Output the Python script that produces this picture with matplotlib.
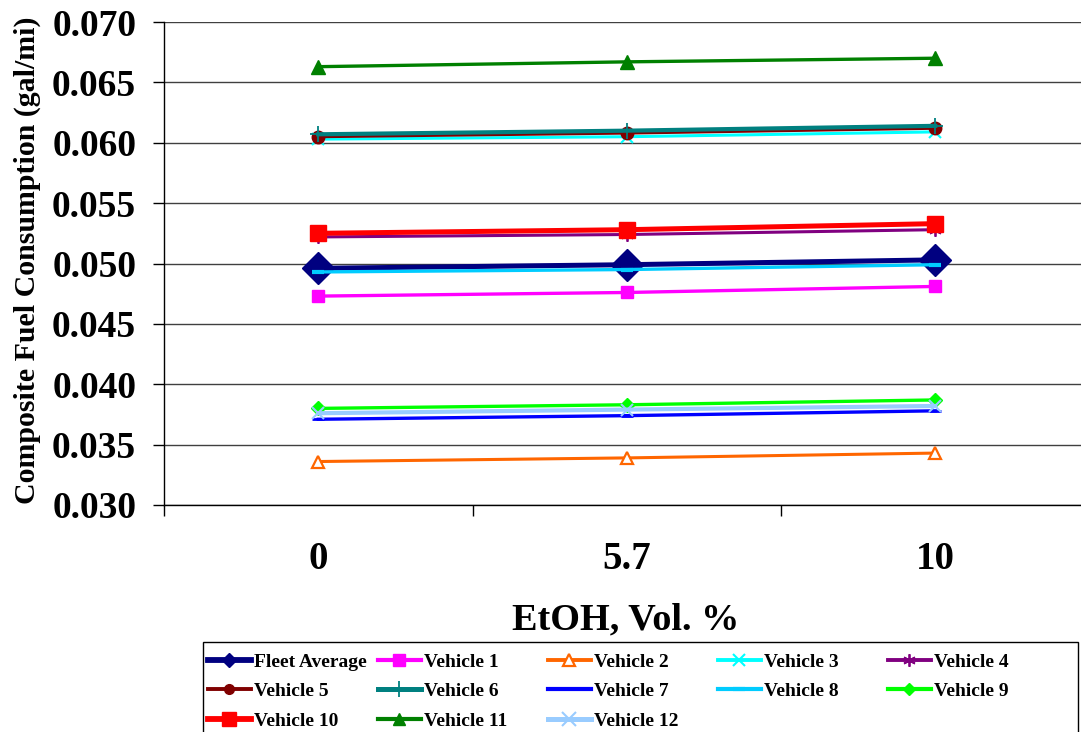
import matplotlib
matplotlib.use("Agg")
import matplotlib.pyplot as plt
from matplotlib.lines import Line2D
from matplotlib.patches import Rectangle

plt.rcParams['font.family'] = ['Liberation Serif', 'DejaVu Serif']
plt.rcParams['font.weight'] = 'bold'

categories = ["0", "5.7", "10"]
series_names = ["Fleet Average", "Vehicle 1", "Vehicle 2", "Vehicle 3", "Vehicle 4",
                "Vehicle 5", "Vehicle 6", "Vehicle 7", "Vehicle 8", "Vehicle 9",
                "Vehicle 10", "Vehicle 11", "Vehicle 12"]
fleet_average = [0.0496, 0.0499, 0.0503]
vehicle_1 = [0.0473, 0.0476, 0.0481]
vehicle_2 = [0.0336, 0.0339, 0.0343]
vehicle_3 = [0.0603, 0.0605, 0.0609]
vehicle_4 = [0.0522, 0.0524, 0.0528]
vehicle_5 = [0.0605, 0.0608, 0.0612]
vehicle_6 = [0.0607, 0.0610, 0.0614]
vehicle_7 = [0.0371, 0.0374, 0.0378]
vehicle_8 = [0.0493, 0.0495, 0.0499]
vehicle_9 = [0.0380, 0.0383, 0.0387]
vehicle_10 = [0.0525, 0.0528, 0.0533]
vehicle_11 = [0.0663, 0.0667, 0.0670]
vehicle_12 = [0.0376, 0.0379, 0.0382]
series_values = [fleet_average, vehicle_1, vehicle_2, vehicle_3, vehicle_4, vehicle_5,
                 vehicle_6, vehicle_7, vehicle_8, vehicle_9, vehicle_10, vehicle_11, vehicle_12]

# styles: color, marker, markersize, linewidth, markerfacecolor, mew, legend markersize
styles = [
    ("#000080", "D", 16, 3.6, "#000080", 1, 7),
    ("#FF00FF", "s", 9, 2.4, "#FF00FF", 1, 9),
    ("#FF6600", "^", 8, 2.2, "white", 1.6, 8),
    ("#00FFFF", "x", 8, 2.2, "#00FFFF", 1.5, 8),
    ("#800080", (6, 2, 0), 9, 2.2, "#800080", 1.3, 9),
    ("#800000", "o", 9, 2.2, "#800000", 1, 7),
    ("#008080", "+", 12, 3.0, "#008080", 1.3, 12),
    ("#0000FF", "_", 8, 2.4, "#0000FF", 2, 8),
    ("#00CCFF", "_", 8, 2.4, "#00CCFF", 3, 8),
    ("#00FF00", "D", 7, 2.4, "#00FF00", 1, 6),
    ("#FF0000", "s", 11.5, 3.6, "#FF0000", 1, 10),
    ("#008000", "^", 10, 2.4, "#008000", 1, 9),
    ("#99CCFF", "x", 9, 3.0, "#99CCFF", 1.5, 10),
]

W, H = 1081, 732
fig = plt.figure(figsize=(W / 100, H / 100), dpi=100)
ax = fig.add_axes([164 / W, 1 - 505 / H, 1 - 164 / W, (505 - 22) / H])

x = list(range(len(categories)))
handles = []
for name, vals, st in zip(series_names, series_values, styles):
    c, m, ms, lw, mfc, mew, lms = st
    ax.plot(x, vals, color=c, marker=m, markersize=ms, linewidth=lw,
            markerfacecolor=mfc, markeredgecolor=c, markeredgewidth=mew, zorder=3)
    handles.append(Line2D([], [], color=c, marker=m, markersize=lms, linewidth=lw + 0.6,
                          markerfacecolor=mfc, markeredgecolor=c, markeredgewidth=mew))

ax.set_yticks([0.030 + 0.005 * i for i in range(9)])
ax.set_yticklabels([f"{0.030 + 0.005 * i:.3f}" for i in range(9)])
ax.yaxis.grid(True, color="#404040", linewidth=1.0)
ax.set_axisbelow(True)
ax.set_xticks(x)
ax.set_xticklabels(categories)
ax.set_xticks([-0.5, 0.5, 1.5, 2.5], minor=True)
ax.set_xlim(-0.5, -0.5 + (W - 164) / 308.5)
ax.set_ylim(0.030, 0.070)
ax.tick_params(axis='x', which='major', length=0, pad=26, labelsize=28)
ax.tick_params(axis='x', which='minor', length=8, width=1, direction='out')
ax.tick_params(axis='y', length=8, width=1, direction='out', pad=12, labelsize=27)
for s in ("top", "right"):
    ax.spines[s].set_visible(False)
for s in ("left", "bottom"):
    ax.spines[s].set_linewidth(1.0)
    ax.spines[s].set_color("black")

fig.text(626 / W, 1 - 620 / H, "EtOH, Vol. %", ha="center", va="center",
         fontsize=27.5, fontweight="bold")
fig.text(27 / W, 1 - 260 / H, "Composite Fuel Consumption (gal/mi)", ha="center",
         va="center", rotation=90, fontsize=21.5, fontweight="bold")

# legend: 5 equal-width columns in a box
fig.add_artist(Rectangle((203 / W, -0.05), (1078 - 203) / W, 0.05 + (1 - 642 / H),
                         transform=fig.transFigure, fill=False, edgecolor="black",
                         linewidth=1.0, zorder=5))
ncol = 5
col_x = [208, 378, 548, 718, 888]
for ci in range(ncol):
    idx = list(range(ci, len(series_names), ncol))
    fig.legend([handles[i] for i in idx], [series_names[i] for i in idx],
               loc="upper left", bbox_to_anchor=(col_x[ci] / W, 1 - 653 / H),
               bbox_transform=fig.transFigure, frameon=False, borderpad=0,
               borderaxespad=0, handlelength=2.2, handletextpad=0.15,
               labelspacing=0.62, prop={"size": 14, "weight": "bold"})

fig.savefig("out.png", dpi=100)
